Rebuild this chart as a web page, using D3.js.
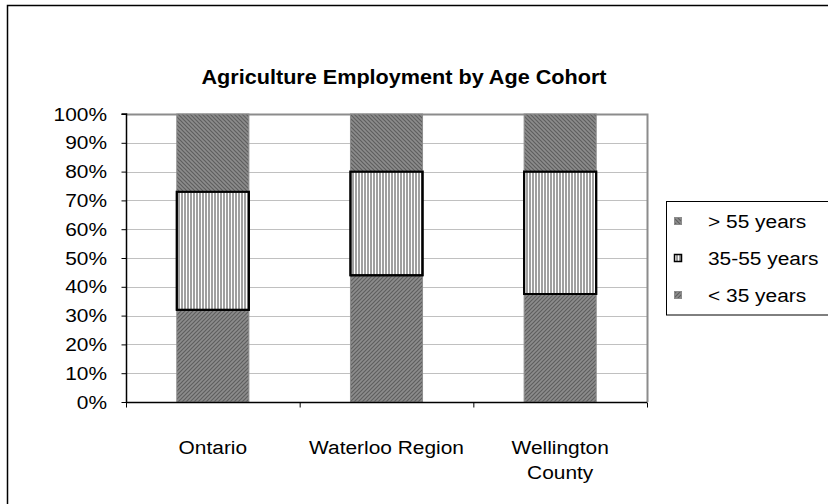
<!DOCTYPE html>
<html><head><meta charset="utf-8">
<script src="https://cdn.jsdelivr.net/npm/d3@7/dist/d3.min.js"></script>
<style>body{margin:0;background:#fff}svg{display:block}text{font-family:"Liberation Sans",Arial,sans-serif;fill:#000}</style>
</head><body><svg id="c" width="828" height="504"></svg>
<script>
const title = "Agriculture Employment by Age Cohort";
const categories = ["Ontario", "Waterloo Region", "Wellington County"];
const categoryLines = [["Ontario"], ["Waterloo Region"], ["Wellington", "County"]];
const seriesNames = ["< 35 years", "35-55 years", "> 55 years"];
const under35 = [32, 44, 37.5];
const age35to55 = [41, 36, 42.5];
const over55 = [27, 20, 20];
const yTicks = [0, 0.1, 0.2, 0.3, 0.4, 0.5, 0.6, 0.7, 0.8, 0.9, 1.0];

const svg = d3.select("#c");
const SX = 1.1, FS = 19;
const L = 126, R = 647, T = 114, B = 402;

// patterns
const defs = svg.append("defs");
function diag(id, dir) {
  const p = defs.append("pattern").attr("id", id).attr("patternUnits", "userSpaceOnUse")
    .attr("width", 4).attr("height", 4);
  p.append("rect").attr("width", 4).attr("height", 4).attr("fill", "#8c8c8c");
  const d = dir > 0 ? "M-1,1 l2,-2 M0,4 l4,-4 M3,5 l2,-2" : "M-1,3 l2,2 M0,0 l4,4 M3,-1 l2,2";
  p.append("path").attr("d", d).attr("stroke", "#5e5e5e").attr("stroke-width", 1.2);
}
diag("pOld", -1);
diag("pYoung", 1);
const pv = defs.append("pattern").attr("id", "pMid").attr("patternUnits", "userSpaceOnUse")
  .attr("width", 3).attr("height", 3);
pv.append("rect").attr("width", 3).attr("height", 3).attr("fill", "#ffffff");
pv.append("rect").attr("x", 1).attr("width", 2).attr("height", 3).attr("fill", "#a0a0a0");
const fills = ["url(#pYoung)", "url(#pMid)", "url(#pOld)"];

// outer frame
svg.append("rect").attr("x", 7.5).attr("y", 5.5).attr("width", 840).attr("height", 520)
  .attr("fill", "none").attr("stroke", "#000").attr("stroke-width", 1.5);

// title
svg.append("text").attr("transform", `translate(404,84) scale(1.03,1)`)
  .attr("text-anchor", "middle").attr("font-weight", "bold").attr("font-size", 21).text(title);

const x = d3.scaleBand().domain(categories).range([L, R]).paddingInner(0.585).paddingOuter(0.2925);
const y = d3.scaleLinear().domain([0, 1]).range([B, T]);

// gridlines
svg.append("g").selectAll("line").data(yTicks.filter(d => d > 0 && d < 1)).join("line")
  .attr("x1", L).attr("x2", R).attr("y1", d => Math.round(y(d)) + 0.5).attr("y2", d => Math.round(y(d)) + 0.5)
  .attr("stroke", "#c0c0c0").attr("stroke-width", 1);
// plot border top/right
svg.append("path").attr("d", `M${L},${T + 0.5} H${R + 0.5} V${B}`).attr("fill", "none")
  .attr("stroke", "#8c8c8c").attr("stroke-width", 2);

// stacked data
const rows = categories.map((c, i) => {
  const tot = under35[i] + age35to55[i] + over55[i];
  return { cat: c, a: under35[i] / tot, b: age35to55[i] / tot, c: over55[i] / tot };
});
const stack = d3.stack().keys(["a", "b", "c"])(rows);
stack.forEach((layer, li) => {
  svg.append("g").selectAll("rect").data(layer).join("rect")
    .attr("x", d => x(d.data.cat)).attr("width", x.bandwidth())
    .attr("y", d => y(d[1])).attr("height", d => y(d[0]) - y(d[1]))
    .attr("fill", fills[li]).attr("stroke", li === 1 ? "#000" : "#8c8c8c")
    .attr("stroke-width", li === 1 ? 2 : 1);
});
svg.append("g").selectAll("rect").data(stack[1]).join("rect")
  .attr("x", d => x(d.data.cat)).attr("width", x.bandwidth())
  .attr("y", d => y(d[1])).attr("height", d => y(d[0]) - y(d[1]))
  .attr("fill", "none").attr("stroke", "#000").attr("stroke-width", 2);

// y axis
const yAxis = svg.append("g").attr("transform", `translate(${L + 0.5},0)`)
  .call(d3.axisLeft(y).tickValues(yTicks).tickSize(5).tickFormat(""));
yAxis.select(".domain").attr("stroke", "#000").attr("stroke-width", 1.5).attr("d", `M-5,${T}H0V${B}`);
yAxis.selectAll(".tick line").attr("stroke", "#000");
svg.append("g").selectAll("text").data(yTicks).join("text")
  .attr("transform", d => `translate(107,${y(d)}) scale(${SX},1)`)
  .attr("text-anchor", "end").attr("dominant-baseline", "central").attr("font-size", FS)
  .text(d => d3.format(".0%")(d));

// x axis
const xb = d3.scaleLinear().domain([0, categories.length]).range([L, R]);
const xAxis = svg.append("g").attr("transform", `translate(0,${B + 0.5})`)
  .call(d3.axisBottom(xb).ticks(categories.length).tickSize(5).tickFormat(""));
xAxis.select(".domain").attr("stroke", "#000").attr("stroke-width", 1.5).attr("d", `M${L},0H${R}`);
xAxis.selectAll(".tick line").attr("stroke", "#000");
categories.forEach((c, i) => {
  categoryLines[i].forEach((ln, j) => {
    svg.append("text").attr("transform", `translate(${x(c) + x.bandwidth() / 2},${447 + j * 25}) scale(${SX},1)`)
      .attr("text-anchor", "middle").attr("dominant-baseline", "central").attr("font-size", FS).text(ln);
  });
});

// legend
const leg = svg.append("g");
leg.append("rect").attr("x", 666.5).attr("y", 201.5).attr("width", 200).attr("height", 113.5)
  .attr("fill", "#fff").attr("stroke", "#000").attr("stroke-width", 1);
const legOrder = [2, 1, 0];
const legY = [221, 258, 295];
legOrder.forEach((si, k) => {
  leg.append("rect").attr("x", 674.5).attr("y", legY[k] - 3.5).attr("width", 7).attr("height", 7)
    .attr("fill", fills[si]).attr("stroke", si === 1 ? "#000" : "#8c8c8c").attr("stroke-width", si === 1 ? 1.5 : 1);
  leg.append("text").attr("transform", `translate(708,${legY[k]}) scale(${SX},1)`)
    .attr("dominant-baseline", "central").attr("font-size", FS).text(seriesNames[si]);
});
</script></body></html>
